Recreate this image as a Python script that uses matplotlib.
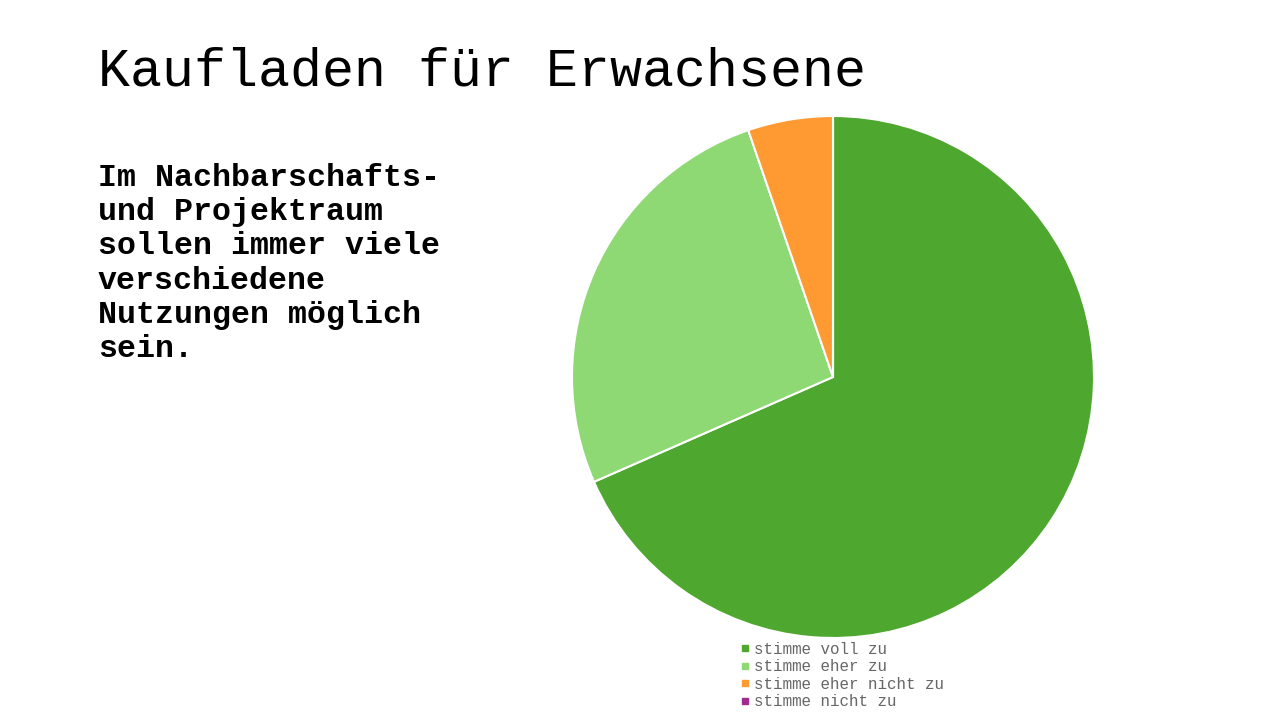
import matplotlib
matplotlib.use("Agg")
import matplotlib.pyplot as plt
from matplotlib.lines import Line2D

title = "Kaufladen für Erwachsene"
question_lines = ["Im Nachbarschafts-", "und Projektraum", "sollen immer viele",
                  "verschiedene", "Nutzungen möglich", "sein."]
categories = ["stimme voll zu", "stimme eher zu", "stimme eher nicht zu", "stimme nicht zu"]
values = [13, 5, 1, 0]
colors = ["#4EA72E", "#8ED973", "#FF9A33", "#A02B93"]

W, H = 1280, 720
fig = plt.figure(figsize=(12.8, 7.2), dpi=100)
fig.patch.set_facecolor("white")

mono = ["Liberation Mono", "DejaVu Sans Mono"]

fig.text(98 / W, 1 - 86 / H, title, fontsize=38.3, family=mono, color="#000000",
         ha="left", va="baseline")

y0 = 186
for i, line in enumerate(question_lines):
    fig.text(98 / W, 1 - (y0 + i * 34.2) / H, line, fontsize=22.8, family=mono,
             fontweight="bold", color="#000000", ha="left", va="baseline")

cx, cy, r = 833, 377, 261
ax = fig.add_axes([(cx - r) / W, (H - cy - r) / H, 2 * r / W, 2 * r / H])
ax.pie(values, colors=colors, startangle=90, counterclock=False, radius=1,
       wedgeprops=dict(edgecolor="white", linewidth=1.5))
ax.set_xlim(-1, 1)
ax.set_ylim(-1, 1)
ax.set_aspect("equal")
ax.axis("off")

handles = [Line2D([], [], linestyle="none", marker="s", markersize=5,
                  markerfacecolor=c, markeredgecolor=c) for c in colors]
fig.legend(handles, categories, loc="upper left", bbox_to_anchor=(740 / W, 1 - 642 / H),
           frameon=False, prop=dict(family=mono, size=11.4), labelcolor="#666666",
           handlelength=0.6, handletextpad=0.3, borderpad=0, borderaxespad=0,
           labelspacing=0.15)

fig.savefig("out.png", dpi=100)
